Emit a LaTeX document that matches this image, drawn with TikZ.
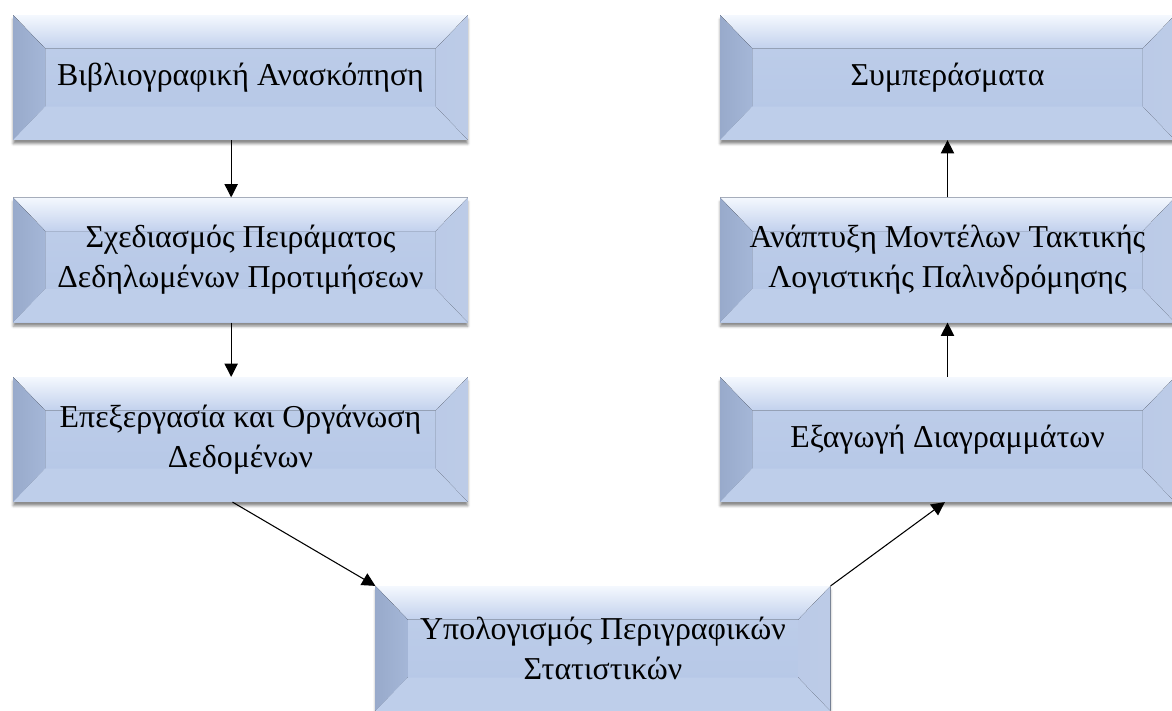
\documentclass[tikz,border=0pt]{standalone}
\usepackage{fontspec}
\setmainfont{Liberation Serif}
\usetikzlibrary{calc,arrows.meta,shadows.blur}
\definecolor{face}{RGB}{180,198,230}
\definecolor{lbev}{RGB}{152,170,203}
\definecolor{rbev}{RGB}{188,203,231}
\definecolor{bbev}{RGB}{190,206,234}
\definecolor{tbevtop}{RGB}{244,248,254}
\definecolor{tbevbot}{RGB}{194,209,237}
\tikzset{
  bevelbox/.style={rectangle, minimum width=341pt, minimum height=93.5pt,
    inner sep=0pt, align=center, font=\fontsize{23.9}{30}\selectfont,
    blur shadow={shadow xshift=0pt, shadow yshift=-3pt, shadow blur steps=4, shadow opacity=45},
    path picture={
      \path (path picture bounding box.south west) coordinate (bsw)
            (path picture bounding box.north east) coordinate (bne)
            (path picture bounding box.north west) coordinate (bnw)
            (path picture bounding box.south east) coordinate (bse);
      \fill[top color=face!85!white, bottom color=face] (bsw) rectangle (bne);
      \fill[top color=tbevtop, bottom color=tbevbot]
        (bnw) -- (bne) -- ($(bne)+(-24pt,-25pt)$) -- ($(bnw)+(24pt,-25pt)$) -- cycle;
      \fill[left color=lbev, right color=lbev!55!face]
        (bnw) -- ($(bnw)+(24pt,-25pt)$) -- ($(bsw)+(24pt,25pt)$) -- (bsw) -- cycle;
      \fill[bbev]
        (bsw) -- ($(bsw)+(24pt,25pt)$) -- ($(bse)+(-24pt,25pt)$) -- (bse) -- cycle;
      \fill[left color=rbev!85!face, right color=rbev]
        (bne) -- ($(bne)+(-24pt,-25pt)$) -- ($(bse)+(-24pt,25pt)$) -- (bse) -- cycle;
    }},
  conn/.style={draw, line width=0.8pt, -{Triangle[length=10pt,width=10pt]}}
}
\begin{document}
\begin{tikzpicture}[x=0.75pt,y=-0.75pt]
\useasboundingbox (0,0) rectangle (1172,711);
\node[bevelbox] (L1) at (240.5,77.5) {Βιβλιογραφική Ανασκόπηση};
\node[bevelbox] (L2) at (240.5,260) {Σχεδιασμός Πειράματος\\Δεδηλωμένων Προτιμήσεων};
\node[bevelbox] (L3) at (240.5,439.5) {Επεξεργασία και Οργάνωση\\Δεδομένων};
\node[bevelbox] (B) at (603,648.5) {Υπολογισμός Περιγραφικών\\Στατιστικών};
\node[bevelbox] (R3) at (947.5,439.5) {Εξαγωγή Διαγραμμάτων};
\node[bevelbox] (R2) at (947.5,260) {Ανάπτυξη Μοντέλων Τακτικής\\Λογιστικής Παλινδρόμησης};
\node[bevelbox] (R1) at (947.5,77.5) {Συμπεράσματα};
\draw[conn] ([xshift=-7pt]L1.south) -- ([xshift=-7pt]L2.north);
\draw[conn] ([xshift=-7pt]L2.south) -- ([xshift=-7pt]L3.north);
\draw[conn] ([xshift=-6pt]L3.south) -- (B.north west);
\draw[conn] (B.north east) -- ([xshift=-2pt]R3.south);
\draw[conn] (R3.north) -- (R2.south);
\draw[conn] (R2.north) -- (R1.south);
\end{tikzpicture}
\end{document}
